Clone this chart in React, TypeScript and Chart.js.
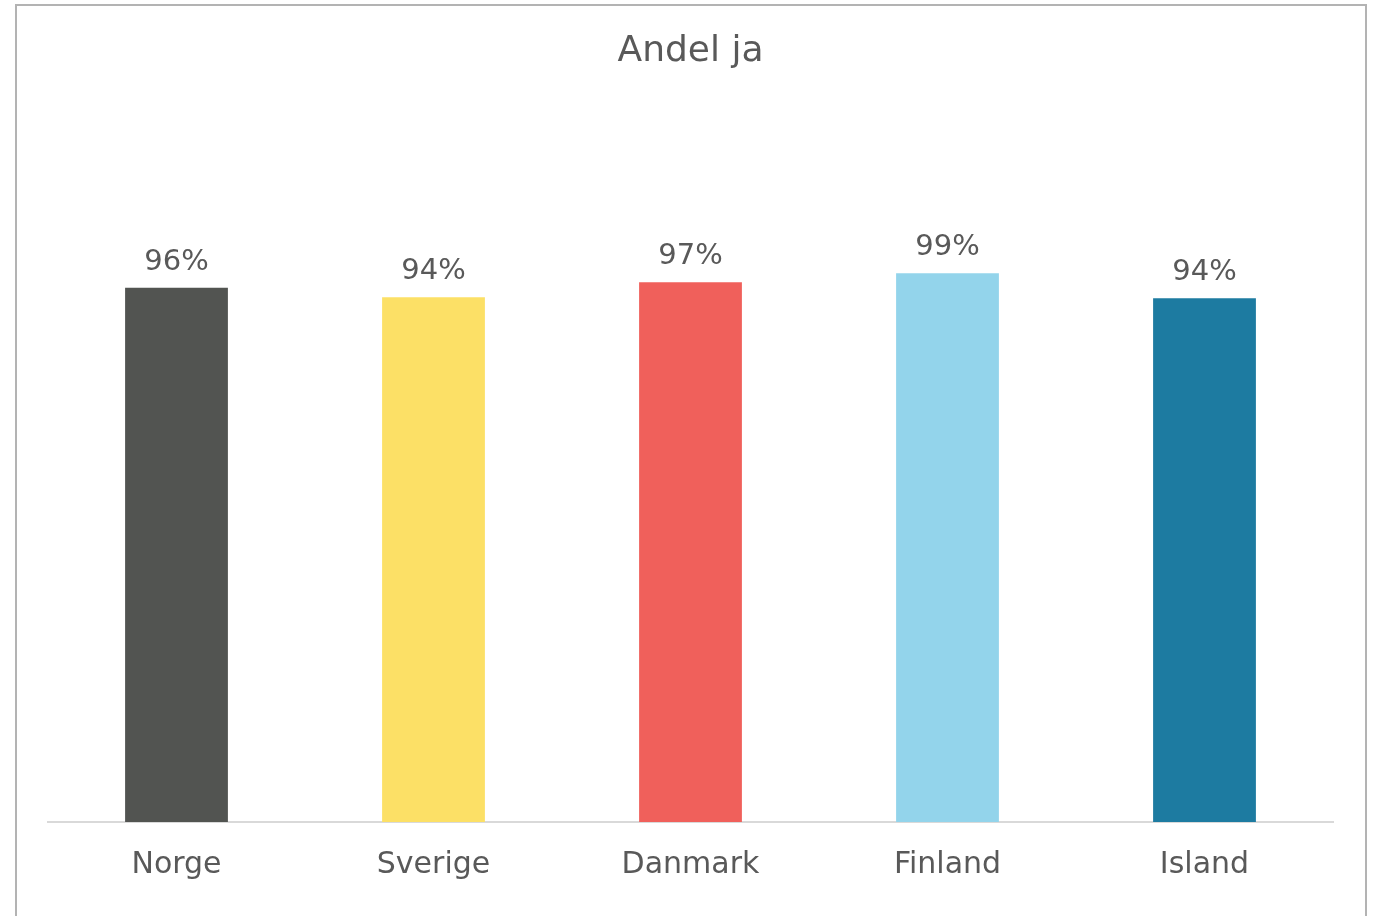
import React, { useEffect, useRef } from "react";
import { Chart, registerables } from "chart.js";

Chart.register(...registerables);

const categories = ["Norge", "Sverige", "Danmark", "Finland", "Island"];
const values = [96.0, 94.3, 97.0, 98.6, 94.1];
const barColors = ["#525451", "#FCE066", "#F0605B", "#93D4EB", "#1D7BA1"];
const chartTitle = "Andel ja";

const FONT = "'DejaVu Sans', sans-serif";
const TEXT = "#595959";

const labelPlugin = {
  id: "barLabels",
  afterDatasetsDraw(chart: any) {
    const ctx = chart.ctx;
    const meta = chart.getDatasetMeta(0);
    ctx.save();
    ctx.font = `29px ${FONT}`;
    ctx.fillStyle = TEXT;
    ctx.textAlign = "center";
    ctx.textBaseline = "alphabetic";
    meta.data.forEach((bar: any, i: number) => {
      const v = chart.data.datasets[0].data[i] as number;
      ctx.fillText(`${Math.round(v)}%`, bar.x, bar.y - 18);
    });
    ctx.restore();
  },
};

export default function App() {
  const ref = useRef<HTMLCanvasElement | null>(null);
  useEffect(() => {
    if (!ref.current) return;
    const chart = new Chart(ref.current, {
      type: "bar",
      data: {
        labels: categories,
        datasets: [
          {
            data: values,
            backgroundColor: barColors,
            categoryPercentage: 1,
            barPercentage: 0.4,
          },
        ],
      },
      options: {
        animation: false,
        responsive: false,
        maintainAspectRatio: false,
        layout: { padding: { left: 48, right: 45, top: 0, bottom: 8 } },
        plugins: {
          legend: { display: false },
          tooltip: { enabled: false },
          title: {
            display: true,
            text: chartTitle,
            color: TEXT,
            font: { family: FONT, size: 36, weight: "normal" },
            padding: { top: 30, bottom: 81 },
          },
        },
        scales: {
          x: {
            grid: { display: false, drawTicks: false },
            border: { display: true, color: "#d9d9d9", width: 2 },
            ticks: {
              color: TEXT,
              font: { family: FONT, size: 30 },
              padding: 25,
            },
          },
          y: {
            display: false,
            min: 0,
            max: 120,
          },
        },
      },
      plugins: [labelPlugin],
    });
    return () => chart.destroy();
  }, []);

  return (
    <div
      style={{
        position: "fixed",
        left: 0,
        top: 0,
        width: 1378,
        height: 916,
        overflow: "hidden",
        background: "#fff",
      }}
    >
      <div
        style={{
          position: "absolute",
          left: 15,
          top: 4,
          width: 1348,
          height: 960,
          border: "2px solid #b3b3b3",
        }}
      />
      <canvas
        ref={ref}
        width={1378}
        height={916}
        style={{ position: "absolute", left: 0, top: 0 }}
      />
    </div>
  );
}
